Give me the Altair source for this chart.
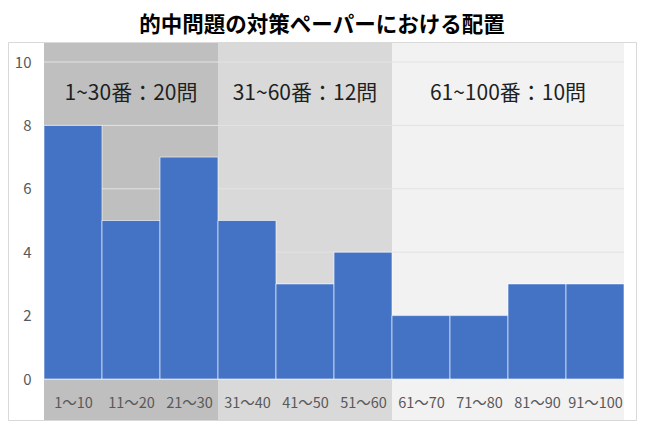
import altair as alt
import pandas as pd

# ---- data ----
categories = ["1～10", "11～20", "21～30", "31～40", "41～50",
              "51～60", "61～70", "71～80", "81～90", "91～100"]
counts = [8, 5, 7, 5, 3, 4, 2, 2, 3, 3]
group_labels = ["1~30番：20問", "31~60番：12問", "61~100番：10問"]
group_start = [0, 3, 6]
group_end = [3, 6, 10]
y_ticks = [0, 2, 4, 6, 8, 10]
title_text = "的中問題の対策ペーパーにおける配置"

FONT = "Noto Sans CJK JP"
W, H = 580, 317

bars = pd.DataFrame({
    "label": categories,
    "count": counts,
    "start": list(range(len(categories))),
})
bars["end"] = bars["start"] + 1

groups = pd.DataFrame({"group": group_labels, "start": group_start, "end": group_end})
groups["mid"] = (groups["start"] + groups["end"]) / 2
ticks = pd.DataFrame({"v": y_ticks})
one = pd.DataFrame({"a": [0]})

label_expr = "[" + ",".join("'%s'" % c for c in categories) + "][floor(datum.value)]"

xscale = alt.Scale(domain=[0, len(categories)], nice=False, zero=False)
yscale = alt.Scale(domain=[0, 10], nice=False)
xaxis = alt.Axis(values=[i + 0.5 for i in range(len(categories))], labelExpr=label_expr,
                 title=None, domain=False, ticks=False, grid=False, labelPadding=17,
                 labelFontSize=14.5, labelColor="#595959", labelFont=FONT, zindex=1,
                 labelFlush=False, labelOverlap=False)
yaxis = alt.Axis(values=y_ticks, title=None, domain=False, ticks=False, grid=False,
                 labelPadding=13, labelFontSize=15, labelColor="#595959", labelFont=FONT,
                 zindex=1)

border = alt.Chart(one).mark_rect(fill="white", stroke="#D9D9D9", strokeWidth=1).encode(
    x=alt.value(-35.5), x2=alt.value(W + 12.5), y=alt.value(-19.5), y2=alt.value(H + 41.5)
)

bands = alt.Chart(groups).mark_rect().encode(
    x=alt.X("start:Q", scale=xscale, axis=xaxis),
    x2="end:Q",
    y=alt.value(-19),
    y2=alt.value(H + 41),
    color=alt.Color("group:N", scale=alt.Scale(domain=group_labels,
                    range=["#BFBFBF", "#D9D9D9", "#F2F2F2"]), legend=None),
)

grid = alt.Chart(ticks).mark_rule(color="#E3E3E3", strokeWidth=1).encode(
    y=alt.Y("v:Q", scale=yscale, axis=yaxis),
    x=alt.value(0),
    x2=alt.value(W),
)

barlayer = alt.Chart(bars).mark_rect(color="#4472C4", stroke="white", strokeWidth=1,
                                      strokeOpacity=0.6).encode(
    x=alt.X("start:Q", scale=xscale, axis=xaxis),
    x2="end:Q",
    y=alt.Y("count:Q", scale=yscale, axis=yaxis),
    y2=alt.datum(0),
)

glabels = alt.Chart(groups).mark_text(font=FONT, fontSize=21, color="#1f1f1f",
                                      baseline="middle", align="center").encode(
    x=alt.X("mid:Q", scale=xscale, axis=xaxis),
    y=alt.value(32),
    text="group:N",
)

chart = alt.layer(border, bands, grid, barlayer, glabels).properties(
    width=W,
    height=H,
    title=alt.TitleParams(title_text, font=FONT, fontSize=21.5, fontWeight="bold",
                          color="#000000", anchor="middle", dx=-12, offset=6),
    autosize=alt.AutoSizeParams(type="none"),
    padding={"left": 36, "top": 54, "right": 13, "bottom": 42},
    background="white",
).configure_view(stroke=None).configure(font=FONT)

chart.save("out.html", embed_options={"renderer": "svg", "actions": False})
